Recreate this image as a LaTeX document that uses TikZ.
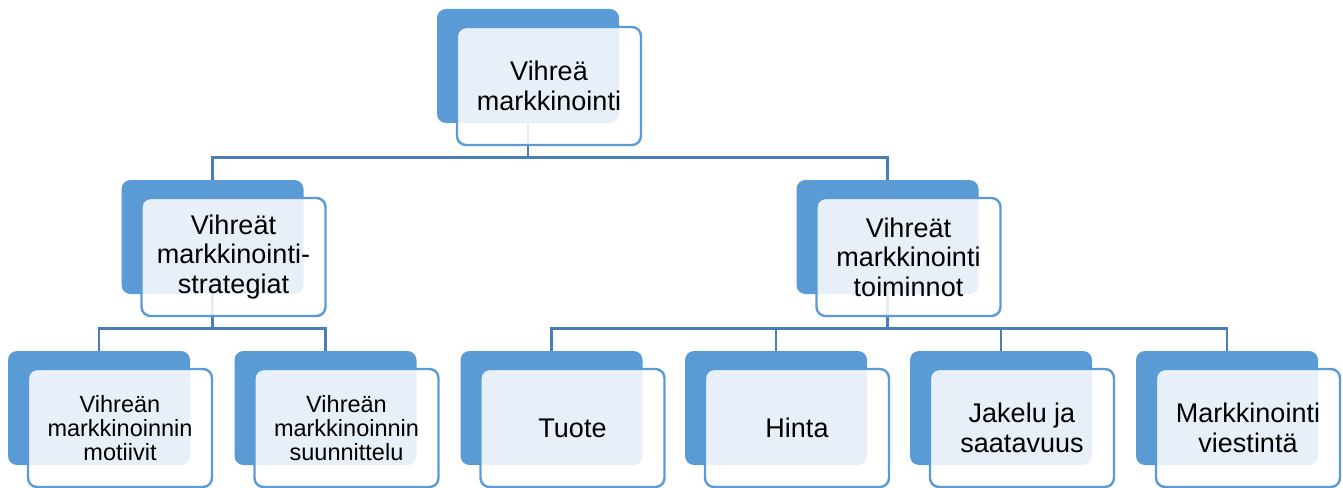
\documentclass[tikz,border=0pt]{standalone}
\usepackage{fontspec}
\setmainfont{Liberation Sans}
\usetikzlibrary{positioning,backgrounds}

\definecolor{boxblue}{HTML}{5B9BD5}
\definecolor{lineblue}{HTML}{4A7EBB}

\begin{document}
\begin{tikzpicture}[x=1pt,y=-1pt,
	back/.style={fill=boxblue,rounded corners=9pt,minimum width=182pt,minimum height=114pt,inner sep=0pt},
	front/.style={draw=boxblue,line width=2.4pt,fill=white,fill opacity=0.86,text opacity=1,rounded corners=9pt,minimum width=184pt,minimum height=118pt,inner sep=0pt,align=center},
	big/.style={font=\fontsize{27}{29.5}\selectfont},
	small/.style={font=\fontsize{23.5}{24}\selectfont},
	conn/.style={draw=lineblue,line width=2.8pt}]
	\useasboundingbox (0,0) rectangle (1343,487);
	% back boxes
	\node[back] (vm-b) at (528,66) {};
	\node[back] (st-b) at (212.5,237) {};
	\node[back] (tm-b) at (887.5,237) {};
	\node[back] (mo-b) at (99,408) {};
	\node[back] (su-b) at (325.5,408) {};
	\node[back] (tu-b) at (551.5,408) {};
	\node[back] (hi-b) at (776,408) {};
	\node[back] (ja-b) at (1001,408) {};
	\node[back] (vi-b) at (1227,408) {};
	% front boxes with text
	\node[front,big] (vm) at ([shift={(21,20)}]vm-b.center) {Vihreä\\markkinointi};
	\node[front,big] (st) at ([shift={(21,20)}]st-b.center) {Vihreät\\markkinointi-\\strategiat};
	\node[front,big] (tm) at ([shift={(21,20)}]tm-b.center) {Vihreät\\markkinointi\\toiminnot};
	\node[front,small] (mo) at ([shift={(21,20)}]mo-b.center) {Vihreän\\markkinoinnin\\motiivit};
	\node[front,small] (su) at ([shift={(21,20)}]su-b.center) {Vihreän\\markkinoinnin\\suunnittelu};
	\node[front,big] (tu) at ([shift={(21,20)}]tu-b.center) {Tuote};
	\node[front,big] (hi) at ([shift={(21,20)}]hi-b.center) {Hinta};
	\node[front,big] (ja) at ([shift={(21,20)}]ja-b.center) {Jakelu ja\\saatavuus};
	\node[front,big] (vi) at ([shift={(21,20)}]vi-b.center) {Markkinointi\\viestintä};
	% connectors
	\begin{scope}[on background layer]
		\foreach \c in {st,tm}
			\path[conn] (vm-b.south) -- ++(0,34) -| (\c-b.north);
		\foreach \c in {mo,su}
			\path[conn] (st-b.south) -- ++(0,34) -| (\c-b.north);
		\foreach \c in {tu,hi,ja,vi}
			\path[conn] (tm-b.south) -- ++(0,34) -| (\c-b.north);
	\end{scope}
\end{tikzpicture}
\end{document}
